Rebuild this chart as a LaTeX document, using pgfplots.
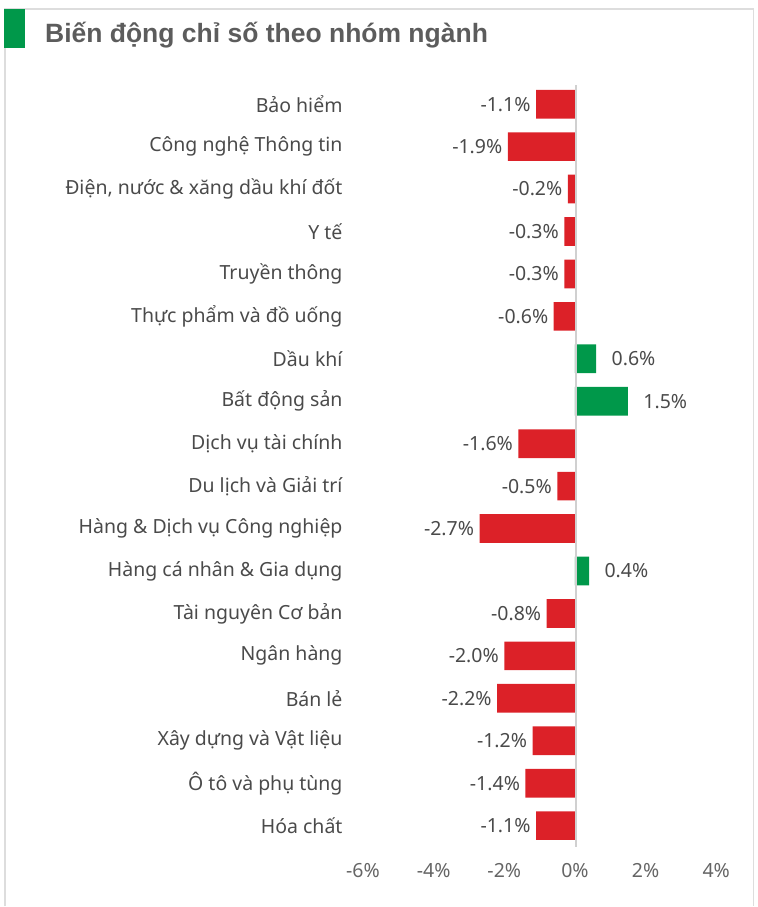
\documentclass[border=0pt]{standalone}
\usepackage{pgfplots}
\pgfplotsset{compat=1.18}
\usepackage{fontspec}
\setmainfont{Noto Sans}
\newfontfamily\titlefont{Liberation Sans}
\definecolor{barred}{HTML}{DC2128}
\definecolor{bargreen}{HTML}{00984A}
\definecolor{txt}{HTML}{4A4A4A}
\definecolor{frame}{HTML}{DDDDDD}
\definecolor{zeroline}{HTML}{D0D0D0}
\begin{document}
\begin{tikzpicture}
\path (0,0) rectangle (758pt,-907pt);
\draw[frame, line width=1.5pt] (5pt,-907pt) -- (5pt,-9pt) -- (754pt,-9pt) -- (754pt,-907pt);
\fill[bargreen] (4.5pt,-9pt) rectangle (25pt,-48pt);
\node[anchor=base west, inner sep=0pt, text=txt!90, font=\titlefont\bfseries\fontsize{26.5}{30}\selectfont] at (45pt,-43pt) {Biến động chỉ số theo nhóm ngành};
\begin{axis}[
  at={(363.3pt,-847.5pt)}, anchor=south west,
  scale only axis, width=353.5pt, height=764.5pt,
  xmin=-6, xmax=4, ymin=-0.5, ymax=17.5,
  y dir=reverse,
  axis line style={draw=none},
  major tick length=0pt,
  xtick={-6,-4,-2,0,2,4},
  xticklabels={-6\%,-4\%,-2\%,0\%,2\%,4\%},
  ytick={0,...,17},
  yticklabels={Bảo hiểm,Công nghệ Thông tin,{Điện, nước \& xăng dầu khí đốt},Y tế,Truyền thông,Thực phẩm và đồ uống,Dầu khí,Bất động sản,Dịch vụ tài chính,Du lịch và Giải trí,Hàng \& Dịch vụ Công nghiệp,Hàng cá nhân \& Gia dụng,Tài nguyên Cơ bản,Ngân hàng,Bán lẻ,Xây dựng và Vật liệu,Ô tô và phụ tùng,Hóa chất},
  ticklabel style={font=\fontsize{19.5}{22}\selectfont, text=txt},
  yticklabel style={xshift=-17pt},
  xticklabel style={yshift=-13pt, text=txt!85},
  xbar, bar width=28.7pt, bar shift=0pt,
  clip=false,
  point meta=explicit symbolic,
  nodes near coords,
  every node near coord/.append style={font=\fontsize{19.5}{22}\selectfont, text=txt},
]
\addplot[fill=barred, draw=none,
  every node near coord/.append style={anchor=east, xshift=-2pt}]
  coordinates {
  (-1.1,0) [-1.1\%]
  (-1.9,1) [-1.9\%]
  (-0.2,2) [-0.2\%]
  (-0.3,3) [-0.3\%]
  (-0.3,4) [-0.3\%]
  (-0.6,5) [-0.6\%]
  (-1.6,8) [-1.6\%]
  (-0.5,9) [-0.5\%]
  (-2.7,10) [-2.7\%]
  (-0.8,12) [-0.8\%]
  (-2.0,13) [-2.0\%]
  (-2.2,14) [-2.2\%]
  (-1.2,15) [-1.2\%]
  (-1.4,16) [-1.4\%]
  (-1.1,17) [-1.1\%]
};
\addplot[fill=bargreen, draw=none,
  every node near coord/.append style={anchor=west, xshift=12pt}]
  coordinates {
  (0.6,6) [0.6\%]
  (1.5,7) [1.5\%]
  (0.4,11) [0.4\%]
};
\draw[zeroline, line width=2pt] ([xshift=1pt]axis cs:0,-0.45) -- ([xshift=1pt]axis cs:0,17.5);
\end{axis}
\end{tikzpicture}
\end{document}
